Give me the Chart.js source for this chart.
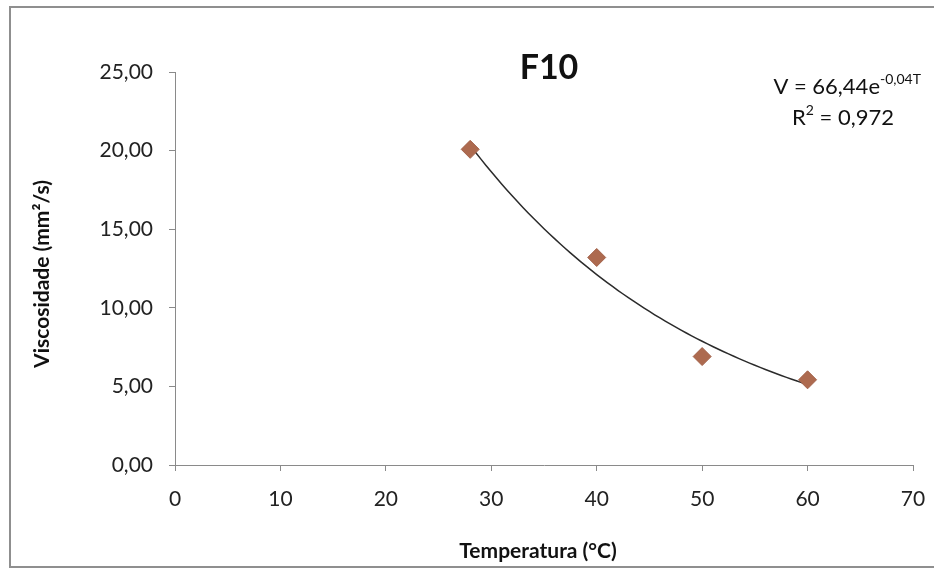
<!DOCTYPE html>
<html>
<head>
<meta charset="utf-8">
<title>F10</title>
<script src="https://cdn.jsdelivr.net/npm/chart.js@4.4.1/dist/chart.umd.min.js"></script>
<style>
    html, body { margin: 0; padding: 0; background: #fff; }
    #wrap { width: 934px; height: 570px; }
</style>
</head>
<body>
<div id="wrap"><canvas id="chart" width="934" height="570"></canvas></div>
<script>
// --- data ---
const temperatures = [28, 40, 50, 60];           // T (°C)
const viscosities = [20.08, 13.2, 6.9, 5.42];     // V (mm²/s)
const xTicks = [0, 10, 20, 30, 40, 50, 60, 70];
const yTicks = [0, 5, 10, 15, 20, 25];
const equationText = 'V = 66,44e';
const exponentText = '-0,04T';
const r2Text = ' = 0,972';

const FONT = 'Lato, "Open Sans", sans-serif';

// exponential least-squares fit (V = a·e^(bT)) from the measured points
function expFit(xs, ys) {
    const n = xs.length;
    const ly = ys.map(v => Math.log(v));
    const mx = xs.reduce((s, v) => s + v, 0) / n;
    const my = ly.reduce((s, v) => s + v, 0) / n;
    let sxy = 0, sxx = 0;
    xs.forEach((x, i) => { sxy += (x - mx) * (ly[i] - my); sxx += (x - mx) * (x - mx); });
    const b = sxy / sxx;
    return { a: Math.exp(my - b * mx), b };
}

const fit = expFit(temperatures, viscosities);
const trendPoints = [];
const tMin = Math.min(...temperatures), tMax = Math.max(...temperatures);
for (let i = 0; i <= 64; i++) {
    const t = tMin + (tMax - tMin) * i / 64;
    trendPoints.push({ x: t, y: fit.a * Math.exp(fit.b * t) });
}

// frame, title, axis titles and the trendline label
const overlay = {
    id: 'overlay',
    beforeDraw(chart) {
        const ctx = chart.ctx;
        ctx.save();
        ctx.fillStyle = '#fff';
        ctx.fillRect(0, 0, chart.width, chart.height);
        ctx.strokeStyle = '#8f8f8f';
        ctx.lineWidth = 2;
        ctx.strokeRect(10, 7, 940, 560);
        ctx.restore();
    },
    afterDraw(chart) {
        const ctx = chart.ctx;
        ctx.save();
        ctx.fillStyle = '#111';
        ctx.textBaseline = 'middle';

        ctx.textAlign = 'center';
        ctx.font = 'bold 34px ' + FONT;
        ctx.fillText('F10', 549, 68);

        ctx.font = 'bold 21px ' + FONT;
        ctx.fillText('Temperatura (°C)', 538, 551);

        ctx.save();
        ctx.translate(42, 274);
        ctx.rotate(-Math.PI / 2);
        ctx.fillText('Viscosidade (mm²/s)', 0, 0);
        ctx.restore();

        // equation, right aligned
        ctx.textAlign = 'left';
        const mainFont = '22px ' + FONT;
        const supFont = '14px ' + FONT;
        ctx.font = mainFont;
        const mainW = ctx.measureText(equationText).width;
        ctx.font = supFont;
        const supW = ctx.measureText(exponentText).width;
        const eqRight = 921;
        const eqLeft = eqRight - mainW - supW;
        ctx.font = mainFont;
        ctx.fillText(equationText, eqLeft, 87);
        ctx.font = supFont;
        ctx.fillText(exponentText, eqLeft + mainW, 79);

        ctx.font = mainFont;
        const rW = ctx.measureText('R').width;
        const restW = ctx.measureText(r2Text).width;
        ctx.font = supFont;
        const twoW = ctx.measureText('2').width;
        const rLeft = 843 - (rW + twoW + restW) / 2;
        ctx.font = mainFont;
        ctx.fillText('R', rLeft, 118);
        ctx.font = supFont;
        ctx.fillText('2', rLeft + rW, 110);
        ctx.font = mainFont;
        ctx.fillText(r2Text, rLeft + rW + twoW, 118);
        ctx.restore();
    }
};

new Chart(document.getElementById('chart'), {
    type: 'scatter',
    data: {
        datasets: [
            {
                label: 'Viscosidade',
                data: temperatures.map((t, i) => ({ x: t, y: viscosities[i] })),
                pointStyle: 'rectRot',
                pointRadius: 9,
                pointBackgroundColor: '#ad6a4f',
                pointBorderColor: '#a3624a',
                pointBorderWidth: 1,
                order: 1
            },
            {
                label: 'Exponencial',
                data: trendPoints,
                showLine: true,
                pointRadius: 0,
                borderColor: '#2b2b2b',
                borderWidth: 1.5,
                tension: 0,
                order: 2
            }
        ]
    },
    options: {
        responsive: false,
        animation: false,
        devicePixelRatio: 1,
        layout: { padding: { left: 0, right: 21, top: 72, bottom: 0 } },
        plugins: {
            legend: { display: false },
            tooltip: { enabled: false },
            title: { display: false }
        },
        scales: {
            x: {
                type: 'linear',
                min: xTicks[0],
                max: xTicks[xTicks.length - 1],
                afterBuildTicks(scale) { scale.ticks = xTicks.map(v => ({ value: v })); },
                afterFit(scale) {
                    scale.height = 105;
                    scale.paddingLeft = 0;
                    scale.paddingRight = 0;
                },
                grid: { drawOnChartArea: false, drawTicks: true, tickLength: 6, color: '#8a8a8a' },
                border: { color: '#8a8a8a', width: 1 },
                ticks: {
                    padding: 16,
                    color: '#222',
                    font: { family: FONT, size: 21 },
                    maxRotation: 0,
                    callback: v => String(v)
                }
            },
            y: {
                type: 'linear',
                min: yTicks[0],
                max: yTicks[yTicks.length - 1],
                afterBuildTicks(scale) { scale.ticks = yTicks.map(v => ({ value: v })); },
                afterFit(scale) {
                    scale.width = 175;
                    scale.paddingTop = 0;
                    scale.paddingBottom = 0;
                },
                grid: { drawOnChartArea: false, drawTicks: true, tickLength: 6, color: '#8a8a8a' },
                border: { color: '#8a8a8a', width: 1 },
                ticks: {
                    padding: 16,
                    color: '#222',
                    font: { family: FONT, size: 21 },
                    callback: v => v.toFixed(2).replace('.', ',')
                }
            }
        }
    },
    plugins: [overlay]
});
</script>
</body>
</html>
